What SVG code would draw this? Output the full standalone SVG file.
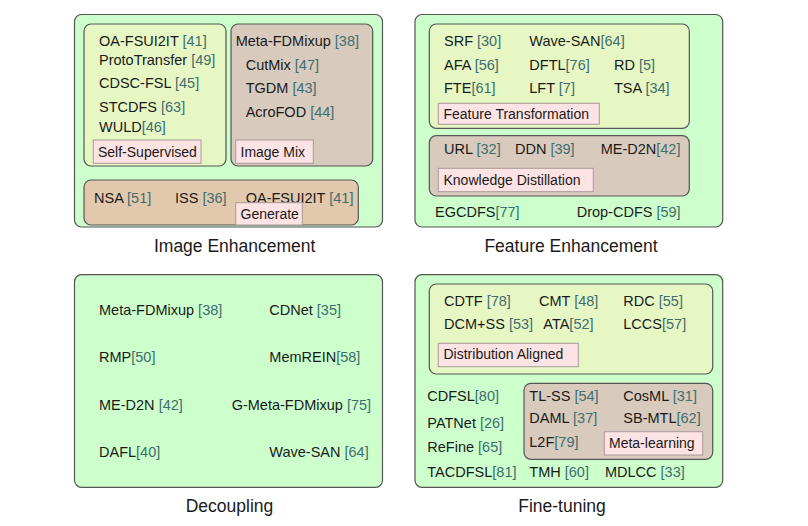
<svg xmlns="http://www.w3.org/2000/svg" width="808" height="526" viewBox="0 0 808 526">
<style>
text{font-family:"Liberation Sans",Arial,sans-serif;fill:#1a1a1a}
.t{font-size:14.5px}
.l{font-size:14px}
.h{font-size:17.5px;text-anchor:middle}
.n{fill:#3f6e6e}
.outer{fill:#ccffcc;stroke:#555;stroke-width:1.2}
.yg{fill:#e6f7c4;stroke:#555;stroke-width:1.2}
.tan{fill:#d8cbbd;stroke:#555;stroke-width:1.2}
.ora{fill:#e2c9ae;stroke:#555;stroke-width:1.2}
.pk{fill:#fde3e3;stroke:#a89a9a;stroke-width:1}
</style>
<rect width="808" height="526" fill="#fff"/>

<g id="image-enhancement">
<rect class="outer" x="74.5" y="14.5" width="308" height="212.5" rx="7"/>
<g id="self-supervised">
<rect class="yg" x="84" y="24" width="142" height="142" rx="7"/>
<text class="t" x="99" y="46">OA-FSUI2IT <tspan class="n">[41]</tspan></text>
<text class="t" x="99" y="65">ProtoTransfer <tspan class="n">[49]</tspan></text>
<text class="t" x="99" y="88">CDSC-FSL <tspan class="n">[45]</tspan></text>
<text class="t" x="99" y="111.5">STCDFS <tspan class="n">[63]</tspan></text>
<text class="t" x="99" y="131.5">WULD<tspan class="n">[46]</tspan></text>
<rect class="pk" x="93.3" y="140" width="107.7" height="23.3"/>
<text class="l" x="98" y="157">Self-Supervised</text>
</g>
<g id="image-mix">
<rect class="tan" x="231" y="24" width="141.7" height="142" rx="7"/>
<text class="t" x="235.7" y="46">Meta-FDMixup <tspan class="n">[38]</tspan></text>
<text class="t" x="245.7" y="70">CutMix <tspan class="n">[47]</tspan></text>
<text class="t" x="245.7" y="92.7">TGDM <tspan class="n">[43]</tspan></text>
<text class="t" x="245.7" y="116.7">AcroFOD <tspan class="n">[44]</tspan></text>
<rect class="pk" x="235.7" y="140" width="77.6" height="23.3"/>
<text class="l" x="240.5" y="157">Image Mix</text>
</g>
<g id="generate">
<rect class="ora" x="84" y="180" width="274.3" height="45" rx="7"/>
<text class="t" x="94" y="202.7">NSA <tspan class="n">[51]</tspan></text>
<text class="t" x="175" y="202.7">ISS <tspan class="n">[36]</tspan></text>
<text class="t" x="245.7" y="202.7">OA-FSUI2IT <tspan class="n">[41]</tspan></text>
<rect class="pk" x="235.7" y="202.7" width="66.6" height="22.3"/>
<text class="l" x="240.5" y="219">Generate</text>
</g>
<text class="h" x="234.7" y="251.7">Image Enhancement</text>
</g>

<g id="feature-enhancement">
<rect class="outer" x="415" y="14.5" width="307.7" height="212.5" rx="7"/>
<g id="feature-transformation">
<rect class="yg" x="429.3" y="24" width="260" height="104.3" rx="7"/>
<text class="t" x="444" y="46">SRF <tspan class="n">[30]</tspan></text>
<text class="t" x="529.3" y="46">Wave-SAN<tspan class="n">[64]</tspan></text>
<text class="t" x="444" y="70">AFA <tspan class="n">[56]</tspan></text>
<text class="t" x="529.3" y="70">DFTL<tspan class="n">[76]</tspan></text>
<text class="t" x="614" y="70">RD <tspan class="n">[5]</tspan></text>
<text class="t" x="444" y="93.3">FTE<tspan class="n">[61]</tspan></text>
<text class="t" x="529.3" y="93.3">LFT <tspan class="n">[7]</tspan></text>
<text class="t" x="614" y="93.3">TSA <tspan class="n">[34]</tspan></text>
<rect class="pk" x="438.3" y="103.3" width="161" height="21"/>
<text class="l" x="443.5" y="119.3">Feature Transformation</text>
</g>
<g id="knowledge-distillation">
<rect class="tan" x="429.3" y="135.7" width="260" height="60.3" rx="7"/>
<text class="t" x="444" y="154">URL <tspan class="n">[32]</tspan></text>
<text class="t" x="515" y="154">DDN <tspan class="n">[39]</tspan></text>
<text class="t" x="600.7" y="154">ME-D2N<tspan class="n">[42]</tspan></text>
<rect class="pk" x="438.3" y="168.3" width="155" height="23.4"/>
<text class="l" x="443.5" y="185">Knowledge Distillation</text>
</g>
<text class="t" x="435" y="216.7">EGCDFS<tspan class="n">[77]</tspan></text>
<text class="t" x="576.7" y="216.7">Drop-CDFS <tspan class="n">[59]</tspan></text>
<text class="h" x="571" y="251.7">Feature Enhancement</text>
</g>

<g id="decoupling">
<rect class="outer" x="74.5" y="274.7" width="308" height="212.6" rx="7"/>
<text class="t" x="99" y="315">Meta-FDMixup <tspan class="n">[38]</tspan></text>
<text class="t" x="269.3" y="315">CDNet <tspan class="n">[35]</tspan></text>
<text class="t" x="99" y="361.7">RMP<tspan class="n">[50]</tspan></text>
<text class="t" x="269.3" y="361.7">MemREIN<tspan class="n">[58]</tspan></text>
<text class="t" x="99" y="410">ME-D2N <tspan class="n">[42]</tspan></text>
<text class="t" x="231.7" y="410">G-Meta-FDMixup <tspan class="n">[75]</tspan></text>
<text class="t" x="99" y="457.3">DAFL<tspan class="n">[40]</tspan></text>
<text class="t" x="269.3" y="457.3">Wave-SAN <tspan class="n">[64]</tspan></text>
<text class="h" x="229.5" y="511.7">Decoupling</text>
</g>

<g id="fine-tuning">
<rect class="outer" x="415" y="274.7" width="307.7" height="212.6" rx="7"/>
<g id="distribution-aligned">
<rect class="yg" x="429.3" y="284" width="283.4" height="90" rx="7"/>
<text class="t" x="444" y="306">CDTF <tspan class="n">[78]</tspan></text>
<text class="t" x="539" y="306">CMT <tspan class="n">[48]</tspan></text>
<text class="t" x="623.3" y="306">RDC <tspan class="n">[55]</tspan></text>
<text class="t" x="444" y="329.3">DCM+SS <tspan class="n">[53]</tspan></text>
<text class="t" x="543.3" y="329.3">ATA<tspan class="n">[52]</tspan></text>
<text class="t" x="623.3" y="329.3">LCCS<tspan class="n">[57]</tspan></text>
<rect class="pk" x="438.3" y="343.3" width="140" height="23.4"/>
<text class="l" x="443.5" y="358.8">Distribution Aligned</text>
</g>
<g id="meta-learning">
<rect class="tan" x="524" y="383.3" width="188.7" height="76" rx="7"/>
<text class="t" x="529.3" y="400.7">TL-SS <tspan class="n">[54]</tspan></text>
<text class="t" x="623.3" y="400.7">CosML <tspan class="n">[31]</tspan></text>
<text class="t" x="529.3" y="423.3">DAML <tspan class="n">[37]</tspan></text>
<text class="t" x="623.3" y="423.3">SB-MTL<tspan class="n">[62]</tspan></text>
<text class="t" x="529.3" y="446.7">L2F<tspan class="n">[79]</tspan></text>
<rect class="pk" x="604.3" y="431.7" width="98.4" height="23.3"/>
<text class="l" x="609" y="448.3">Meta-learning</text>
</g>
<text class="t" x="427.3" y="400.7">CDFSL<tspan class="n">[80]</tspan></text>
<text class="t" x="427.3" y="428.3">PATNet <tspan class="n">[26]</tspan></text>
<text class="t" x="427.3" y="451.7">ReFine <tspan class="n">[65]</tspan></text>
<text class="t" x="427.3" y="476.7">TACDFSL<tspan class="n">[81]</tspan></text>
<text class="t" x="529.3" y="476.7">TMH <tspan class="n">[60]</tspan></text>
<text class="t" x="605" y="476.7">MDLCC <tspan class="n">[33]</tspan></text>
<text class="h" x="562" y="511.7">Fine-tuning</text>
</g>
</svg>
